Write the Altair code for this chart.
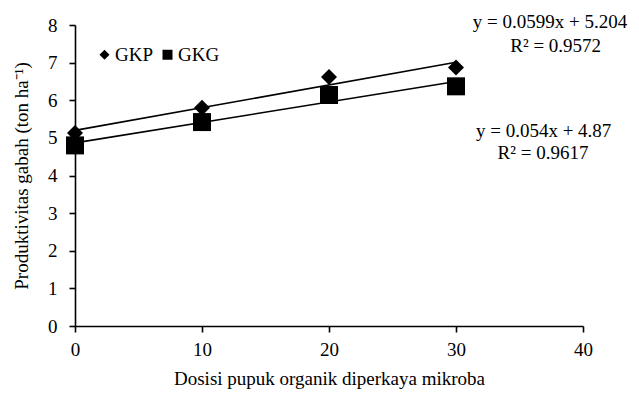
import altair as alt
import pandas as pd

# data
doses = [0, 10, 20, 30]
gkp = [5.13, 5.80, 6.62, 6.87]
gkg = [4.80, 5.42, 6.14, 6.37]
series = ["GKP", "GKG"]
marker_shapes = ["diamond", "square"]
marker_sizes = [256, 324]

ann_text = ["y = 0.0599x + 5.204", "R² = 0.9572", "y = 0.054x + 4.87", "R² = 0.9617"]
ann_x = [37.4, 37.85, 36.9, 36.85]
ann_y = [8.09, 7.45, 5.19, 4.6]

x_ticks = [0, 10, 20, 30, 40]
y_ticks = [0, 1, 2, 3, 4, 5, 6, 7, 8]

FONT = "Liberation Serif"
FS = 19

rows = []
for d, a, b in zip(doses, gkp, gkg):
    rows.append({"dosis": d, "hasil": a, "seri": "GKP"})
    rows.append({"dosis": d, "hasil": b, "seri": "GKG"})
df = pd.DataFrame(rows)
ann = pd.DataFrame({"t": ann_text, "x": ann_x, "y": ann_y})

xs = alt.Scale(domain=[0, 40], nice=False)
ys = alt.Scale(domain=[0, 8], nice=False)

xax = alt.Axis(values=x_ticks, title="Dosisi pupuk organik diperkaya mikroba", grid=False,
               tickSize=6, labelPadding=8, titlePadding=10, labelFlush=False,
               labelOverlap=False)
yax = alt.Axis(values=y_ticks, title="Produktivitas gabah (ton ha⁻¹)", grid=False,
               tickSize=6, labelPadding=12, titlePadding=16, labelFlush=False,
               labelOverlap=False)

shape_enc = alt.Shape(
    "seri:N",
    scale=alt.Scale(domain=series, range=marker_shapes),
    legend=alt.Legend(title=None, orient="none", legendX=20, legendY=20,
                      direction="horizontal", symbolSize=100,
                      symbolFillColor="black", symbolStrokeColor="black",
                      labelFont=FONT, labelFontSize=FS, labelColor="black",
                      labelOffset=1, columnPadding=4),
)

point_layers = []
for s, sz in zip(series, marker_sizes):
    point_layers.append(
        alt.Chart(df).transform_filter(alt.datum.seri == s).mark_point(
            filled=True, opacity=1, color="black", size=sz
        ).encode(
            x=alt.X("dosis:Q", scale=xs, axis=xax),
            y=alt.Y("hasil:Q", scale=ys, axis=yax),
            shape=shape_enc,
        )
    )

trend = alt.Chart(df).transform_regression(
    "dosis", "hasil", groupby=["seri"], extent=[0, 30]
).mark_line(color="black", strokeWidth=1.6).encode(
    x=alt.X("dosis:Q", scale=xs, axis=xax),
    y=alt.Y("hasil:Q", scale=ys, axis=yax),
    detail="seri:N",
)

labels = alt.Chart(ann).mark_text(font=FONT, fontSize=FS, color="black", align="center",
                                  baseline="middle").encode(
    x=alt.X("x:Q", scale=xs, axis=xax),
    y=alt.Y("y:Q", scale=ys, axis=yax),
    text="t:N",
)

chart = alt.layer(trend, *point_layers, labels).properties(
    width=508, height=301,
    autosize=alt.AutoSizeParams(type="none"),
    padding={"left": 67, "top": 17, "right": 48, "bottom": 66},
).configure_view(stroke=None).configure_axis(
    labelFont=FONT, titleFont=FONT, labelFontSize=FS, titleFontSize=FS,
    labelColor="black", titleColor="black", titleFontWeight="normal",
    domainColor="black", tickColor="black", domainWidth=1.6, tickWidth=1.6,
)

chart.save("out.html", embed_options={"renderer": "svg", "actions": False})
